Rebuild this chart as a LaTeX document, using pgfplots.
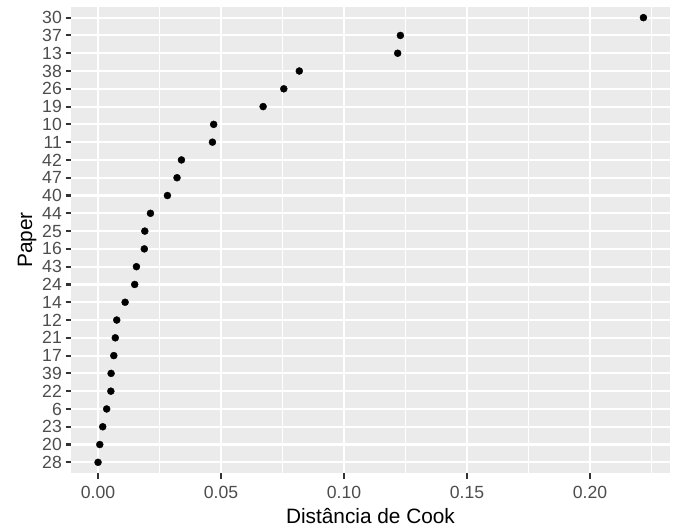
\documentclass[border=0pt]{standalone}
\usepackage{pgfplots}
\pgfplotsset{compat=1.18}
\usepackage{fontspec}
\setmainfont{Liberation Sans}
\definecolor{panelbg}{HTML}{EBEBEB}
\definecolor{labc}{HTML}{4D4D4D}
\definecolor{tickc}{HTML}{333333}
\begin{document}
\begin{tikzpicture}
\useasboundingbox (0,0) rectangle (676bp,529bp);
\begin{axis}[
  at={(71bp,56bp)}, anchor=south west,
  scale only axis, width=599bp, height=466bp,
  xmin=-0.011, xmax=0.2325, ymin=0.4, ymax=26.6,
  axis background/.style={fill=panelbg},
  axis line style={draw=none},
  grid=both,
  major grid style={white, line width=2.1bp},
  minor grid style={white, line width=1.05bp},
  xtick={0,0.05,0.10,0.15,0.20},
  minor xtick={0.025,0.075,0.125,0.175,0.225},
  ytick={1,...,26},
  yticklabels={28,20,23,6,22,39,17,21,12,14,24,43,16,25,44,40,47,42,11,10,19,26,38,13,37,30},
  tick pos=left,
  tick align=outside,
  major tick length=5.5bp,
  minor tick length=0pt,
  tick style={color=tickc, line width=2.1bp},
  ticklabel style={font=\fontsize{17.6bp}{20bp}\selectfont, text=labc, inner sep=0pt},
  /pgf/number format/assume math mode=true,
  xticklabel={\pgfmathprintnumber[fixed,fixed zerofill,precision=2]{\tick}},
  xticklabel style={anchor=base, yshift=-20bp},
  yticklabel style={anchor=east, xshift=-3.5bp},
  xlabel={Distância de Cook},
  ylabel={Paper},
  xlabel style={font=\fontsize{20.8bp}{24bp}\selectfont, at={(axis description cs:0.5,-0.1073)}, anchor=base},
  ylabel style={font=\fontsize{20.8bp}{24bp}\selectfont, at={(axis description cs:-0.0651,0.5)}, anchor=base},
]
\addplot[only marks, mark=*, mark size=3.5bp, color=black] table[x=x, y=y] {
y x
1 0.0000
2 0.0007
3 0.0019
4 0.0035
5 0.0052
6 0.0053
7 0.0064
8 0.0070
9 0.0076
10 0.0110
11 0.0149
12 0.0156
13 0.0188
14 0.0190
15 0.0213
16 0.0282
17 0.0321
18 0.0339
19 0.0465
20 0.0470
21 0.0671
22 0.0755
23 0.0818
24 0.1218
25 0.1229
26 0.2217
};
\end{axis}
\end{tikzpicture}
\end{document}
